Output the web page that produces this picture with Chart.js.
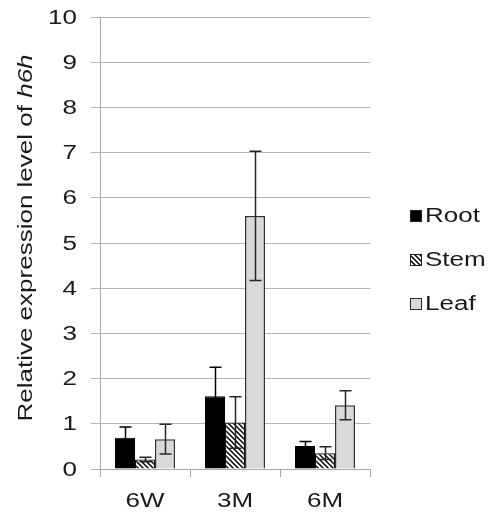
<!DOCTYPE html>
<html>
<head>
<meta charset="utf-8">
<script src="https://cdn.jsdelivr.net/npm/chart.js@4"></script>
<style>
html,body{margin:0;padding:0;background:#fff;}
#wrap{width:489px;height:513px;}
</style>
</head>
<body>
<div id="wrap"><canvas id="c" width="489" height="513"></canvas></div>
<script>
const categories = ['6W', '3M', '6M'];
const seriesNames = ['Root', 'Stem', 'Leaf'];
const rootValues = [0.69, 1.61, 0.51];
const rootErrors = [0.24, 0.64, 0.10];
const stemValues = [0.21, 1.03, 0.35];
const stemErrors = [0.05, 0.57, 0.14];
const leafValues = [0.66, 5.60, 1.41];
const leafErrors = [0.33, 1.43, 0.32];
const yTicks = [0,1,2,3,4,5,6,7,8,9,10];
const yTitleMain = 'Relative expression level of ';
const yTitleItalic = 'h6h';

const FONT = '"Liberation Sans", Arial, Helvetica, sans-serif';
const TEXT = '#1a1a1a';
const SX = 1.3;   // horizontal stretch of the reference's lettering
const FS = 20;

function makeHatch() {
  const s = 5;
  const p = document.createElement('canvas');
  p.width = s; p.height = s;
  const g = p.getContext('2d');
  g.fillStyle = '#fff';
  g.fillRect(0,0,s,s);
  g.strokeStyle = '#000';
  g.lineWidth = 1.5;
  g.beginPath();
  g.moveTo(-1,-1); g.lineTo(s+1,s+1);
  g.moveTo(-1,s-1); g.lineTo(1,s+1);
  g.moveTo(s-1,-1); g.lineTo(s+1,1);
  g.stroke();
  return document.getElementById('c').getContext('2d').createPattern(p,'repeat');
}
const hatch = makeHatch();

const errorsByDataset = [rootErrors, stemErrors, leafErrors];
const errorColors = ['#000', '#262626', '#262626'];

const errorBarPlugin = {
  id: 'errorBars',
  afterDatasetsDraw(chart) {
    const ctx = chart.ctx;
    const y = chart.scales.y;
    ctx.save();
    ctx.lineWidth = 1.5;
    chart.data.datasets.forEach((ds, di) => {
      const meta = chart.getDatasetMeta(di);
      ctx.strokeStyle = errorColors[di];
      meta.data.forEach((bar, i) => {
        const v = ds.data[i], e = errorsByDataset[di][i];
        const yt = y.getPixelForValue(v + e);
        const yb = y.getPixelForValue(Math.max(0, v - e));
        const x = Math.round(bar.x) + 0.5;
        ctx.beginPath();
        ctx.moveTo(x, yb); ctx.lineTo(x, yt);
        ctx.moveTo(x - 6, yt); ctx.lineTo(x + 6, yt);
        ctx.moveTo(x - 6, yb); ctx.lineTo(x + 6, yb);
        ctx.stroke();
      });
    });
    ctx.restore();
  }
};

function stretchedText(ctx, text, x, y, align, font) {
  ctx.save();
  ctx.font = font;
  const w = ctx.measureText(text).width * SX;
  let x0 = x;
  if (align === 'right') x0 = x - w;
  else if (align === 'center') x0 = x - w / 2;
  ctx.translate(x0, y);
  ctx.scale(SX, 1);
  ctx.textAlign = 'left';
  ctx.fillText(text, 0, 0);
  ctx.restore();
}

const textPlugin = {
  id: 'textPlugin',
  afterDraw(chart) {
    const ctx = chart.ctx;
    const font = FS + 'px ' + FONT;
    ctx.save();
    ctx.fillStyle = TEXT;
    const ys = chart.scales.y;
    ctx.textBaseline = 'middle';
    ys.ticks.forEach(t => {
      stretchedText(ctx, String(t.value), 77, ys.getPixelForValue(t.value) + 1, 'right', font);
    });
    const xs = chart.scales.x;
    ctx.textBaseline = 'alphabetic';
    chart.data.labels.forEach((lab, i) => {
      stretchedText(ctx, lab, xs.getPixelForValue(i), 507, 'center', font);
    });
    const baseY = 222, step = 44;
    chart.data.datasets.forEach((ds, i) => {
      const by = baseY + i * step;
      ctx.fillStyle = ds.backgroundColor;
      ctx.fillRect(410, by - 12, 12, 12);
      ctx.strokeStyle = '#222';
      ctx.lineWidth = 1;
      ctx.strokeRect(410.5, by - 11.5, 11, 11);
      ctx.fillStyle = TEXT;
      ctx.textBaseline = 'alphabetic';
      stretchedText(ctx, ds.label, 425, by, 'left', font);
    });
    ctx.save();
    ctx.translate(32, 238);
    ctx.rotate(-Math.PI / 2);
    ctx.font = font;
    const w1 = ctx.measureText(yTitleMain).width;
    ctx.font = 'italic ' + font;
    const w2 = ctx.measureText(yTitleItalic).width;
    ctx.scale(SX, 1);
    const start = -(w1 + w2) / 2;
    ctx.fillStyle = TEXT;
    ctx.textBaseline = 'alphabetic';
    ctx.textAlign = 'left';
    ctx.font = font;
    ctx.fillText(yTitleMain, start, 0);
    ctx.font = 'italic ' + font;
    ctx.fillText(yTitleItalic, start + w1, 0);
    ctx.restore();
    ctx.restore();
  }
};

new Chart(document.getElementById('c'), {
  type: 'bar',
  data: {
    labels: categories,
    datasets: [
      { label: seriesNames[0], data: rootValues, backgroundColor: '#000', borderColor: '#000', borderWidth: 1 },
      { label: seriesNames[1], data: stemValues, backgroundColor: hatch, borderColor: '#111', borderWidth: 1.2 },
      { label: seriesNames[2], data: leafValues, backgroundColor: '#d9d9d9', borderColor: '#333', borderWidth: 1.5 }
    ]
  },
  options: {
    responsive: false,
    animation: false,
    devicePixelRatio: 1,
    layout: { padding: { top: 17, right: 119, left: 0, bottom: 0 } },
    plugins: { legend: { display: false }, tooltip: { enabled: false } },
    datasets: { bar: { categoryPercentage: 0.667, barPercentage: 1.0 } },
    scales: {
      x: {
        grid: { drawOnChartArea: false, drawTicks: true, tickLength: 8, offset: true, color: '#a8a8a8', lineWidth: 1 },
        border: { color: '#a8a8a8', width: 1 },
        ticks: { display: false },
        afterFit(s) { s.height = 44; }
      },
      y: {
        min: 0, max: 10,
        afterBuildTicks(s) { s.ticks = yTicks.map(v => ({ value: v })); },
        grid: { color: '#b4b4b4', lineWidth: 1, tickLength: 9, drawTicks: true },
        border: { color: '#a8a8a8', width: 1 },
        ticks: { display: false },
        afterFit(s) { s.width = 100; }
      }
    }
  },
  plugins: [errorBarPlugin, textPlugin]
});
</script>
</body>
</html>
